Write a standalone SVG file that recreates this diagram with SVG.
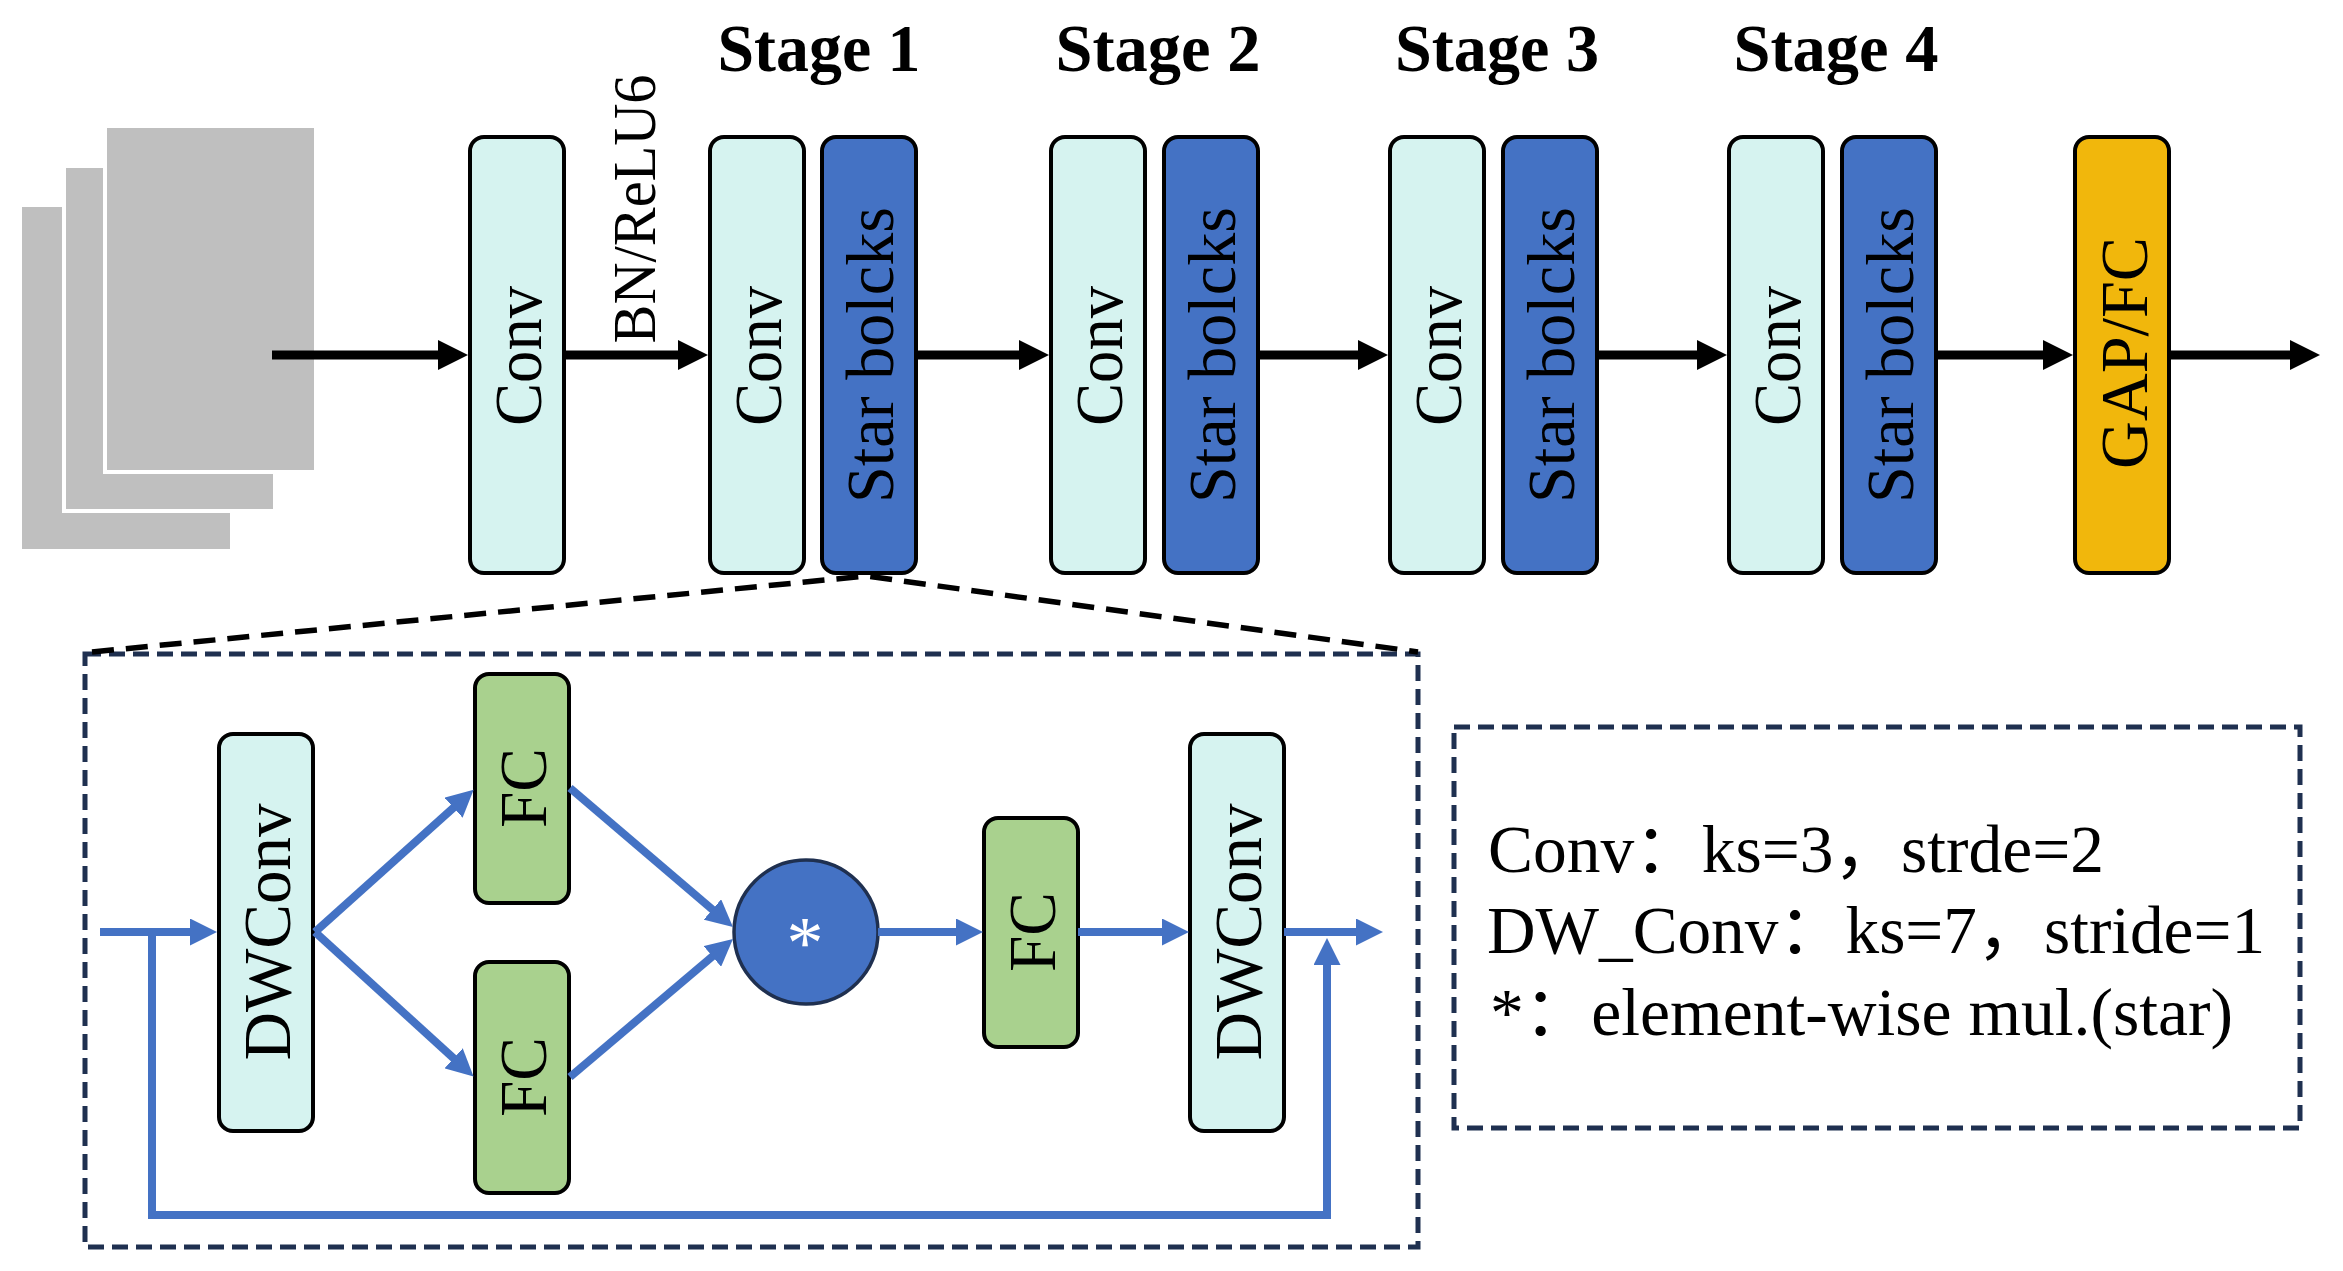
<svg xmlns="http://www.w3.org/2000/svg" width="2343" height="1271" viewBox="0 0 2343 1271">
<style>
.box{stroke:#000;stroke-width:4}
.cyan{fill:#D6F3F0}
.blue{fill:#4472C4}
.green{fill:#A9D18E}
.gold{fill:#F1B70C}
.lbl{font-family:"Liberation Serif","Times New Roman",serif;font-size:68px;text-anchor:middle;fill:#000}
.stage{font-family:"Liberation Serif","Times New Roman",serif;font-size:68px;font-weight:bold;text-anchor:middle;fill:#000}
.legend{font-family:"Liberation Serif","Times New Roman","Noto Sans CJK SC",serif;font-size:67px;fill:#000}
.blk{stroke:#000;stroke-width:9;fill:none}
.bl{stroke:#4472C4;stroke-width:8;fill:none}
.dash{fill:none;stroke:#1F3050;stroke-width:5;stroke-dasharray:16 8}
</style>
<defs>
<marker id="ah" markerUnits="userSpaceOnUse" viewBox="0 0 30 30" markerWidth="30" markerHeight="30" refX="10" refY="15" orient="auto">
<path d="M0,0 L30,15 L0,30 z" fill="#000"/>
</marker>
<marker id="bh" markerUnits="userSpaceOnUse" viewBox="0 0 27 27" markerWidth="27" markerHeight="27" refX="10" refY="13.5" orient="auto">
<path d="M0,0 L27,13.5 L0,27 z" fill="#4472C4"/>
</marker>
</defs>
<rect width="2343" height="1271" fill="#fff"/>

<g id="input-stack">
<rect x="22" y="207" width="208" height="342" fill="#BFBFBF"/>
<rect x="62" y="164" width="215" height="349" fill="#fff"/>
<rect x="66" y="168" width="207" height="341" fill="#BFBFBF"/>
<rect x="103" y="124" width="215" height="350" fill="#fff"/>
<rect x="107" y="128" width="207" height="342" fill="#BFBFBF"/>
</g>

<g id="stage-titles">
<text class="stage" x="819" y="71" textLength="203" lengthAdjust="spacingAndGlyphs">Stage 1</text>
<text class="stage" x="1158" y="71" textLength="205" lengthAdjust="spacingAndGlyphs">Stage 2</text>
<text class="stage" x="1497" y="71" textLength="204" lengthAdjust="spacingAndGlyphs">Stage 3</text>
<text class="stage" x="1836" y="71" textLength="205" lengthAdjust="spacingAndGlyphs">Stage 4</text>
</g>

<g id="stem-conv">
<rect class="box cyan" x="470" y="137" width="94" height="436" rx="14"/>
<text class="lbl" transform="translate(517,356) rotate(-90)" y="24" textLength="140" lengthAdjust="spacingAndGlyphs">Conv</text>
</g>
<g id="s1-conv">
<rect class="box cyan" x="710" y="137" width="94" height="436" rx="14"/>
<text class="lbl" transform="translate(757,356) rotate(-90)" y="24" textLength="140" lengthAdjust="spacingAndGlyphs">Conv</text>
</g>
<g id="s1-star">
<rect class="box blue" x="822" y="137" width="94" height="436" rx="14"/>
<text class="lbl" transform="translate(869,355) rotate(-90)" y="24" textLength="296" lengthAdjust="spacingAndGlyphs">Star bolcks</text>
</g>
<g id="s2-conv">
<rect class="box cyan" x="1051" y="137" width="94" height="436" rx="14"/>
<text class="lbl" transform="translate(1098,356) rotate(-90)" y="24" textLength="140" lengthAdjust="spacingAndGlyphs">Conv</text>
</g>
<g id="s2-star">
<rect class="box blue" x="1164" y="137" width="94" height="436" rx="14"/>
<text class="lbl" transform="translate(1211,355) rotate(-90)" y="24" textLength="296" lengthAdjust="spacingAndGlyphs">Star bolcks</text>
</g>
<g id="s3-conv">
<rect class="box cyan" x="1390" y="137" width="94" height="436" rx="14"/>
<text class="lbl" transform="translate(1437,356) rotate(-90)" y="24" textLength="140" lengthAdjust="spacingAndGlyphs">Conv</text>
</g>
<g id="s3-star">
<rect class="box blue" x="1503" y="137" width="94" height="436" rx="14"/>
<text class="lbl" transform="translate(1550,355) rotate(-90)" y="24" textLength="296" lengthAdjust="spacingAndGlyphs">Star bolcks</text>
</g>
<g id="s4-conv">
<rect class="box cyan" x="1729" y="137" width="94" height="436" rx="14"/>
<text class="lbl" transform="translate(1776,356) rotate(-90)" y="24" textLength="140" lengthAdjust="spacingAndGlyphs">Conv</text>
</g>
<g id="s4-star">
<rect class="box blue" x="1842" y="137" width="94" height="436" rx="14"/>
<text class="lbl" transform="translate(1889,355) rotate(-90)" y="24" textLength="296" lengthAdjust="spacingAndGlyphs">Star bolcks</text>
</g>
<g id="gap-fc">
<rect class="box gold" x="2075" y="137" width="94" height="436" rx="14"/>
<text class="lbl" transform="translate(2122,353) rotate(-90)" y="25" textLength="232" lengthAdjust="spacingAndGlyphs">GAP/FC</text>
</g>

<g id="bn-relu-label">
<text class="lbl" transform="translate(655,209) rotate(-90)" y="0" style="font-size:62px" textLength="269" lengthAdjust="spacingAndGlyphs">BN/ReLU6</text>
</g>

<g id="block-detail">
<rect class="dash" x="85" y="654" width="1333" height="593"/>
</g>

<g id="dwconv-1">
<rect class="box cyan" x="219" y="734" width="94" height="397" rx="14"/>
<text class="lbl" transform="translate(266,932) rotate(-90)" y="24" textLength="257" lengthAdjust="spacingAndGlyphs">DWConv</text>
</g>
<g id="fc-top">
<rect class="box green" x="475" y="674" width="94" height="229" rx="14"/>
<text class="lbl" transform="translate(522,788) rotate(-90)" y="24" textLength="80" lengthAdjust="spacingAndGlyphs">FC</text>
</g>
<g id="fc-bottom">
<rect class="box green" x="475" y="962" width="94" height="231" rx="14"/>
<text class="lbl" transform="translate(522,1077) rotate(-90)" y="24" textLength="80" lengthAdjust="spacingAndGlyphs">FC</text>
</g>
<g id="star-op">
<circle cx="806" cy="932" r="72" fill="#4472C4" stroke="#1F3050" stroke-width="3.5"/>
<text x="805" y="968" style="font-family:'Liberation Serif',serif;font-size:74px;text-anchor:middle;fill:#fff">*</text>
</g>
<g id="fc-mid">
<rect class="box green" x="984" y="818" width="94" height="229" rx="14"/>
<text class="lbl" transform="translate(1031,932) rotate(-90)" y="24" textLength="80" lengthAdjust="spacingAndGlyphs">FC</text>
</g>
<g id="dwconv-2">
<rect class="box cyan" x="1190" y="734" width="94" height="397" rx="14"/>
<text class="lbl" transform="translate(1237,932) rotate(-90)" y="24" textLength="257" lengthAdjust="spacingAndGlyphs">DWConv</text>
</g>

<g id="legend">
<rect class="dash" x="1454" y="727" width="846" height="401"/>
<text class="legend" x="1488" y="872" textLength="616" lengthAdjust="spacingAndGlyphs">Conv：ks=3，strde=2</text>
<text class="legend" x="1487" y="953" textLength="778" lengthAdjust="spacingAndGlyphs">DW_Conv：ks=7，stride=1</text>
<text class="legend" x="1490" y="1035" textLength="743" lengthAdjust="spacingAndGlyphs">*：element-wise mul.(star)</text>
</g>

<g id="connectors">
<line class="blk" x1="272" y1="355" x2="448" y2="355" marker-end="url(#ah)"/>
<line class="blk" x1="566" y1="355" x2="688" y2="355" marker-end="url(#ah)"/>
<line class="blk" x1="918" y1="355" x2="1029" y2="355" marker-end="url(#ah)"/>
<line class="blk" x1="1260" y1="355" x2="1368" y2="355" marker-end="url(#ah)"/>
<line class="blk" x1="1599" y1="355" x2="1707" y2="355" marker-end="url(#ah)"/>
<line class="blk" x1="1938" y1="355" x2="2053" y2="355" marker-end="url(#ah)"/>
<line class="blk" x1="2171" y1="355" x2="2300" y2="355" marker-end="url(#ah)"/>
<polyline points="92,652 866,576 1418,652" fill="none" stroke="#000" stroke-width="5.5" stroke-dasharray="22 12"/>

<line class="bl" x1="100" y1="932" x2="200" y2="932" marker-end="url(#bh)"/>
<line class="bl" x1="315" y1="932" x2="461" y2="801" marker-end="url(#bh)"/>
<line class="bl" x1="315" y1="932" x2="461" y2="1065" marker-end="url(#bh)"/>
<line class="bl" x1="570" y1="788" x2="720" y2="916" marker-end="url(#bh)"/>
<line class="bl" x1="570" y1="1077" x2="720" y2="950" marker-end="url(#bh)"/>
<line class="bl" x1="878" y1="932" x2="966" y2="932" marker-end="url(#bh)"/>
<line class="bl" x1="1078" y1="932" x2="1172" y2="932" marker-end="url(#bh)"/>
<line class="bl" x1="1284" y1="932" x2="1366" y2="932" marker-end="url(#bh)"/>
<polyline class="bl" points="152,932 152,1215 1327,1215 1327,955" marker-end="url(#bh)"/>
</g>
</svg>
